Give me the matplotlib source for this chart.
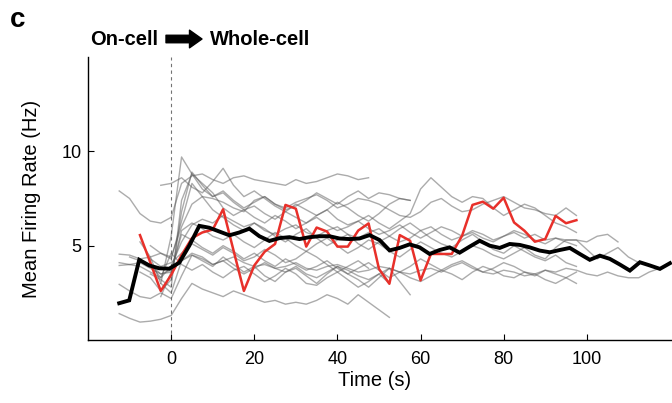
import numpy as np
import matplotlib
matplotlib.use('Agg')
import matplotlib.pyplot as plt

plt.rcParams['font.family'] = ['Liberation Sans', 'DejaVu Sans']

# mean across cells (black), binned every ~2.41 s from -12.5 s to 120 s
mean_t0, mean_t1 = -12.5, 120.0
mean_rate = [1.95, 2.1, 4.25, 3.95, 3.8, 3.78, 4.1, 5.0, 6.05, 5.95,
             5.75, 5.55, 5.7, 5.9, 5.5, 5.25, 5.4, 5.45, 5.35, 5.45,
             5.5, 5.5, 5.38, 5.35, 5.38, 5.56, 5.3, 4.75, 4.88, 5.07,
             4.91, 4.56, 4.77, 4.91, 4.63, 4.95, 5.26, 5.0, 4.88, 5.09,
             5.04, 4.91, 4.74, 4.65, 4.77, 4.88, 4.56, 4.25, 4.47, 4.3,
             4.0, 3.68, 4.12, 3.95, 3.77, 4.07]

# example cell (red), 2.5 s bins
red_t0 = -7.5
red_rate = [5.56, 4.1, 2.6, 3.45, 4.5, 5.4, 5.7, 5.85, 6.93, 4.75,
            2.6, 3.95, 4.68, 5.09, 7.16, 6.96, 4.95, 5.96, 5.75, 4.95,
            4.95, 5.8, 6.18, 3.77, 2.98, 5.56, 5.26, 3.16, 4.56, 4.56,
            4.56, 5.53, 7.16, 7.33, 6.96, 7.54, 6.23, 5.79, 5.21, 5.35,
            6.58, 6.19, 6.35]

# individual cells (gray), 2.5 s bins, each with its own start time
gray_step = 2.5
gray_start = [-12.5, -12.5, -12.5, -12.5, -12.5, -12.5, -7.5, -7.5, -5.0,
              -5.0, -2.5, -2.5, -7.5, -5.0, -10.0, -2.5]
cell01 = [7.9, 7.5, 6.7, 6.3, 6.2, 6.5, 8.3, 8.7, 8.8, 8.5, 8.3, 8.6, 8.7,
          8.5, 8.4, 8.3, 8.2, 8.5, 8.3, 8.4, 8.6, 8.8, 8.7, 8.5, 8.6]
cell02 = [4.55, 4.5, 4.3, 4.4, 4.6, 4.4, 6.0, 7.2, 7.6, 7.5, 7.3, 7.0, 6.8,
          7.4, 7.6, 7.2, 7.0, 7.3, 7.5, 7.7, 7.4, 7.0, 7.2, 7.5, 7.4, 7.2,
          6.9, 6.6, 6.5, 6.8, 7.3, 7.5, 7.1, 6.8, 6.9, 7.2, 7.4, 7.6, 7.3,
          7.0, 6.9, 6.7, 6.6, 7.0, 6.6]
cell03 = [4.1, 4.0, 3.9, 3.6, 3.3, 3.9, 5.2, 6.1, 6.4, 6.2, 6.6, 6.3, 6.0,
          6.2, 5.8, 5.6, 5.9, 6.1, 5.7, 5.5, 5.8, 6.0, 5.6, 5.4, 5.7, 5.9,
          5.5, 5.2, 5.4, 5.8, 6.0, 5.6, 5.3, 5.5, 5.7, 5.4, 5.2, 5.5, 5.8,
          5.6, 5.3, 5.1, 5.4, 5.2, 5.0]
cell04 = [3.95, 4.0, 4.1, 3.8, 3.5, 3.7, 4.2, 4.5, 4.3, 4.0, 4.2, 4.4, 4.1,
          3.9, 4.0, 3.8, 3.9, 4.1, 3.8, 3.7, 3.9, 4.0, 3.8, 3.6, 3.7, 3.9,
          3.8, 3.6, 3.5, 3.7, 3.8, 3.6, 3.9, 4.1, 3.8, 3.6, 3.5, 3.7, 3.6,
          3.4, 3.5, 3.7, 3.6, 3.8, 3.7, 3.5, 3.4, 3.6, 3.4, 3.3, 3.3, 3.6, 3.8]
cell05 = [2.95, 2.6, 2.3, 2.2, 2.5, 2.2, 3.4, 4.5, 4.2, 3.9, 4.4, 4.0, 3.6,
          3.9, 3.4, 3.1, 3.6, 3.8, 3.4, 3.0, 3.5, 3.9, 3.5, 3.2, 2.8, 3.3,
          3.8, 3.1, 2.4]
cell06 = [1.4, 1.15, 0.95, 1.0, 1.1, 1.3, 2.2, 3.0, 2.7, 2.5, 2.3, 2.6, 2.4,
          2.2, 2.0, 2.1, 1.9, 2.0, 1.9, 2.1, 2.4, 2.2, 1.9, 2.4, 2.0, 1.6, 1.2]
cell07 = [5.2, 4.4, 3.0, 5.5, 9.7, 8.8, 8.0, 7.6, 7.8, 7.3, 6.9, 7.1, 6.7,
          6.4, 6.8, 6.5, 6.2, 6.6, 6.9, 6.4, 6.1, 6.3, 6.6, 6.2, 5.9, 6.3,
          6.7, 8.0, 8.6, 8.1, 7.6, 7.3, 7.6, 7.5, 7.0, 6.6, 6.9, 7.2, 7.0,
          6.6, 6.2, 6.0, 5.7]
cell08 = [3.6, 3.3, 2.6, 3.2, 6.8, 8.9, 8.2, 7.6, 7.9, 7.4, 7.0, 7.3, 7.6,
          7.2, 6.9, 7.1, 7.4, 7.8, 7.5, 7.2, 7.6, 7.9, 7.5, 7.8, 7.7, 7.5, 7.4]
cell09 = [5.0, 4.6, 4.3, 6.3, 8.3, 7.6, 6.9, 6.5, 6.1, 5.8, 6.2, 5.9, 5.5,
          5.2, 5.6, 5.9, 5.4, 5.0, 5.3, 5.6, 5.1, 4.8, 5.2, 5.5, 5.9, 6.2,
          5.8, 5.4, 5.1, 4.9, 5.3, 5.6, 5.2, 4.8, 4.6, 5.0, 4.7, 4.4, 4.2,
          4.5, 4.1, 3.9]
cell10 = [4.3, 3.9, 4.1, 4.6, 5.1, 4.8, 4.5, 4.9, 4.6, 4.2, 4.4, 4.8, 4.5,
          4.1, 4.3, 4.7, 4.4, 4.0, 3.6, 3.9, 4.2, 3.8]
cell11 = [8.2, 8.3, 8.6, 8.1, 7.8, 8.4, 9.1, 8.2, 7.6, 7.9, 7.5, 7.1, 6.8,
          7.2, 6.9, 6.6, 6.9, 7.3, 7.0, 6.6, 6.3, 6.7, 7.2, 7.5, 7.4]
cell12 = [3.0, 2.5, 4.2, 4.6, 4.4, 4.0, 4.2, 3.8, 3.5, 3.8, 4.1, 3.8, 3.6,
          3.9, 3.5, 3.3, 3.6, 3.9, 3.7, 3.4, 3.2, 3.5, 3.8, 3.6, 3.3, 3.1,
          3.4, 3.7, 3.5, 3.2, 3.6, 3.9, 3.7, 3.4, 3.3, 3.6, 3.5, 3.2, 3.0,
          3.3, 3.0]
cell13 = [4.2, 4.0, 3.5, 3.6, 5.8, 6.2, 5.9, 5.5, 5.3, 5.6, 5.2, 4.9, 5.3,
          5.7, 5.4, 5.0, 4.7, 5.1, 5.4, 5.0, 4.6, 4.9, 5.3, 5.1, 4.7, 4.4,
          4.8, 5.2, 4.9, 4.6, 4.4, 4.7, 5.0, 4.8, 4.5, 4.3, 4.6, 4.9, 4.5,
          4.3, 4.9, 5.3, 5.3, 4.8, 4.3, 4.6, 4.9, 4.4, 4.1]
cell14 = [3.5, 3.2, 2.8, 7.4, 8.8, 8.3, 7.8, 7.0, 6.6, 6.9, 6.5, 6.2, 6.6,
          6.3, 5.9, 6.2, 6.5, 6.1, 5.8, 6.0, 6.3, 5.9, 5.6, 5.8, 6.1, 5.7,
          5.4, 5.7, 6.0, 5.8, 5.5, 5.8, 5.6, 5.3, 5.5, 5.7, 5.4, 5.6, 5.3,
          5.4, 5.3, 5.3, 5.2, 5.5, 5.6, 5.2]
cell15 = [4.4, 4.2, 4.0, 3.3, 4.6, 4.0, 3.7, 4.0, 3.6, 3.3, 3.7, 3.9, 3.5,
          3.1, 3.4, 3.8, 3.5, 3.0, 2.9, 3.3, 3.6, 3.2, 2.8, 3.1, 3.5, 3.0]
cell16 = [2.3, 3.6, 5.6, 5.3, 4.9, 4.6, 5.0, 4.7, 4.3, 4.6, 4.2, 3.9, 4.3,
          4.0, 3.7, 3.9, 4.2, 3.8, 3.5, 3.8, 4.1, 3.7, 3.3, 3.6, 3.9, 4.3,
          4.0, 3.7, 4.0, 4.2, 3.9, 3.6, 3.8, 4.1, 3.9, 3.6, 3.4, 3.7, 3.5,
          3.3, 3.6]
gray_cells = [cell01, cell02, cell03, cell04, cell05, cell06, cell07, cell08,
              cell09, cell10, cell11, cell12, cell13, cell14, cell15, cell16]

x_ticks = [0, 20, 40, 60, 80, 100]
y_ticks = [5, 10]

fig = plt.figure(figsize=(6.72, 4.03), dpi=100)
ax = fig.add_axes([0.131, 0.1563, 0.869, 0.7023])

for start, rate in zip(gray_start, gray_cells):
    t = start + gray_step * np.arange(len(rate))
    ax.plot(t, rate, color='0.35', alpha=0.5, lw=1.0, zorder=2)

t_red = red_t0 + 2.5 * np.arange(len(red_rate))
ax.plot(t_red, red_rate, color='#e8302a', lw=1.8, zorder=3)

t_mean = np.linspace(mean_t0, mean_t1, len(mean_rate))
ax.plot(t_mean, mean_rate, color='black', lw=2.8, zorder=4,
        solid_joinstyle='miter')

ax.axvline(0, color='0.45', ls=(0, (3, 3)), lw=0.8, zorder=1)

ax.set_xlim(-20, 120.5)
ax.set_ylim(0, 15)
ax.set_xticks(x_ticks)
ax.set_yticks(y_ticks)
ax.tick_params(direction='in', length=4, width=0.8, labelsize=13)
ax.tick_params(axis='x', pad=8)
ax.tick_params(axis='y', pad=4.5)
for side in ['top', 'right']:
    ax.spines[side].set_visible(False)
for side in ['left', 'bottom']:
    ax.spines[side].set_linewidth(1.0)

ax.set_xlabel('Time (s)', fontsize=14.5)
ax.xaxis.set_label_coords(0.49, -0.108)
ax.set_ylabel('Mean Firing Rate (Hz)', fontsize=14.5)
ax.yaxis.set_label_coords(-0.08, 0.5)

fig.text(0.015, 0.933, 'c', fontsize=20, fontweight='bold', va='baseline')
fig.text(90 / 672, 1 - 45 / 403, 'On-cell', fontsize=14.5,
         fontweight='bold', va='baseline')
fig.text(210 / 672, 1 - 45 / 403, 'Whole-cell', fontsize=14.5,
         fontweight='bold', va='baseline')
ax.annotate('', xy=(202 / 672, 1 - 39 / 403), xytext=(166 / 672, 1 - 39 / 403),
            xycoords='figure fraction', textcoords='figure fraction',
            arrowprops=dict(arrowstyle='simple,head_length=0.6,head_width=0.85,tail_width=0.36',
                            color='black', shrinkA=0, shrinkB=0,
                            mutation_scale=15))

fig.savefig('out.png', dpi=100)
